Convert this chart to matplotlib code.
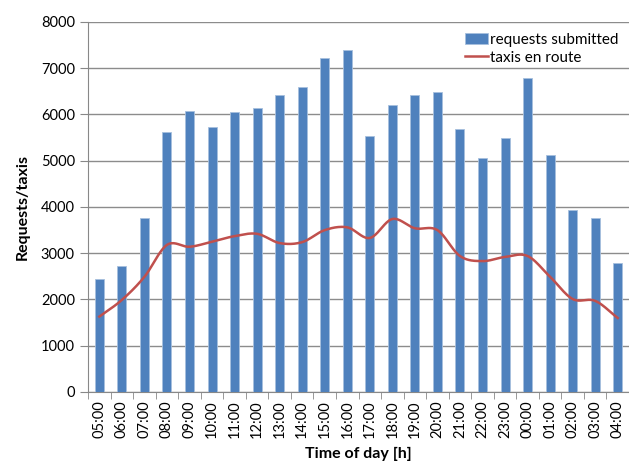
import numpy as np
import matplotlib
matplotlib.use("Agg")
import matplotlib.pyplot as plt
from matplotlib.ticker import FixedLocator

hours = ["05:00", "06:00", "07:00", "08:00", "09:00", "10:00", "11:00", "12:00",
         "13:00", "14:00", "15:00", "16:00", "17:00", "18:00", "19:00", "20:00",
         "21:00", "22:00", "23:00", "00:00", "01:00", "02:00", "03:00", "04:00"]
requests = [2450, 2720, 3760, 5620, 6080, 5720, 6050, 6140, 6420, 6600, 7220, 7400,
            5540, 6200, 6420, 6490, 5680, 5060, 5500, 6780, 5120, 3940, 3760, 2780]
taxis = [1630, 1990, 2490, 3180, 3140, 3250, 3370, 3420, 3220, 3240, 3500, 3560,
         3330, 3740, 3540, 3500, 2940, 2830, 2920, 2940, 2490, 2010, 1970, 1600]

plt.rcParams['font.family'] = ['Lato', 'DejaVu Sans']

fig = plt.figure(figsize=(6.29, 4.61), dpi=100)
ax = fig.add_axes([0.14, 0.1497, 0.86, 0.8026])

x = np.arange(len(hours))
bars = ax.bar(x, requests, width=0.4, color="#4F81BD", edgecolor="#A7C0DE", linewidth=0.6,
              label="requests submitted", zorder=3)

# Smooth curve (Catmull-Rom through the read points, like Excel's smoothed line)
def catmull(xs, ys, n=20):
    xs = np.asarray(xs, float); ys = np.asarray(ys, float)
    px = np.concatenate([[2*xs[0]-xs[1]], xs, [2*xs[-1]-xs[-2]]])
    py = np.concatenate([[2*ys[0]-ys[1]], ys, [2*ys[-1]-ys[-2]]])
    ox, oy = [], []
    for i in range(1, len(px)-2):
        t = np.linspace(0, 1, n, endpoint=False)
        for arr, out in ((px, ox), (py, oy)):
            p0, p1, p2, p3 = arr[i-1], arr[i], arr[i+1], arr[i+2]
            out.extend(0.5*((2*p1) + (-p0+p2)*t + (2*p0-5*p1+4*p2-p3)*t**2 + (-p0+3*p1-3*p2+p3)*t**3))
    ox.append(xs[-1]); oy.append(ys[-1])
    return np.array(ox), np.array(oy)

sx, sy = catmull(x, taxis)
line, = ax.plot(sx, sy, color="#C0504D", linewidth=1.8, label="taxis en route", zorder=4)

ax.set_xlim(-0.5, len(hours) - 0.5)
ax.set_ylim(0, 8000)
ax.set_yticks(np.arange(0, 8001, 1000))
ax.set_xticks(x)
ax.set_xticklabels(hours, rotation=90, fontsize=10.5)
ax.xaxis.set_minor_locator(FixedLocator(np.arange(-0.5, len(hours), 1)))
ax.tick_params(axis='x', which='major', length=0, pad=6)
ax.tick_params(axis='x', which='minor', length=5, color="#888888")
ax.tick_params(axis='y', length=6, color="#888888", labelsize=10.5, direction='out')

ax.grid(axis='y', color="#8c8c8c", linewidth=1, zorder=0)
ax.set_axisbelow(True)
for s in ["top", "right"]:
    ax.spines[s].set_visible(False)
ax.spines["left"].set_color("#888888")
ax.spines["bottom"].set_color("#888888")

ax.set_ylabel("Requests/taxis", fontsize=11.5, fontweight="bold", labelpad=8)
ax.set_xlabel("Time of day [h]", fontsize=11.5, fontweight="bold", labelpad=6)

leg = ax.legend([bars, line], ["requests submitted", "taxis en route"],
                loc="upper right", bbox_to_anchor=(1.0, 1.0), frameon=False, fontsize=11,
                handlelength=1.5, handletextpad=0.1, borderaxespad=0.3, labelspacing=0.25)

fig.savefig("out.png", dpi=100)
